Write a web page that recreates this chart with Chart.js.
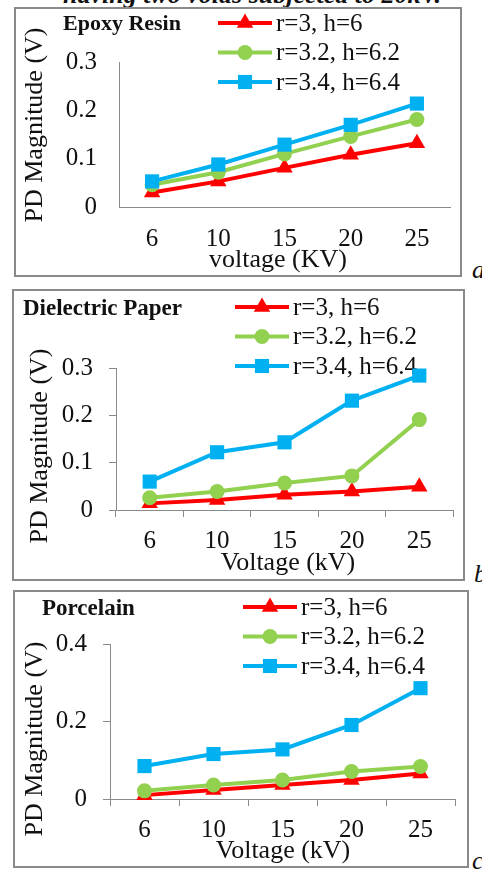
<!DOCTYPE html>
<html>
<head>
<meta charset="utf-8">
<script src="https://cdn.jsdelivr.net/npm/chart.js@4.4.1/dist/chart.umd.min.js"></script>
<style>
  html, body { margin: 0; padding: 0; background: #fff; }
  body { width: 482px; height: 869px; overflow: hidden; position: relative; font-family: "Liberation Serif", serif; }
  .panel { position: absolute; box-sizing: border-box; border: 2px solid #8a8a8a; background: #fff; }
  .panel canvas { display: block; }
  .caption { position: absolute; left: 0; width: 504px; top: -18px; text-align: center; font: italic bold 26px/26px "Liberation Serif", serif; color: #111; white-space: nowrap; }
  .tag { position: absolute; font: italic 26px/26px "Liberation Serif", serif; color: #111; }
</style>
</head>
<body>
<div class="caption">having two voids subjected to 20kV.</div>

<div class="panel" style="left:14px;top:7px;width:448px;height:270px"><canvas id="epoxy" width="444" height="266"></canvas></div>
<div class="tag" style="left:472px;top:257px">a</div>

<div class="panel" style="left:12px;top:289px;width:453px;height:292px"><canvas id="paper" width="449" height="288"></canvas></div>
<div class="tag" style="left:474px;top:561px">b</div>

<div class="panel" style="left:13px;top:590px;width:456px;height:278px"><canvas id="porcelain" width="452" height="274"></canvas></div>
<div class="tag" style="left:472px;top:848px">c</div>

<script>
// voltage steps (kV) on the x axis
const voltage = ['6', '10', '15', '20', '25'];
const seriesNames = ['r=3, h=6', 'r=3.2, h=6.2', 'r=3.4, h=6.4'];

// PD magnitude (V)
const epoxyR3  = [0.030, 0.053, 0.081, 0.108, 0.132];
const epoxyR32 = [0.046, 0.072, 0.110, 0.146, 0.181];
const epoxyR34 = [0.053, 0.088, 0.129, 0.170, 0.214];

const paperR3  = [0.014, 0.021, 0.032, 0.039, 0.049];
const paperR32 = [0.026, 0.039, 0.057, 0.072, 0.191];
const paperR34 = [0.060, 0.122, 0.143, 0.231, 0.284];

const porcR3  = [0.010, 0.023, 0.036, 0.049, 0.066];
const porcR32 = [0.021, 0.036, 0.049, 0.071, 0.084];
const porcR34 = [0.085, 0.116, 0.128, 0.191, 0.286];

const COLORS = ['#ff0000', '#92d050', '#00b0f0'];
const MARKERS = [
  { style: 'triangle', r: 9.5 },
  { style: 'circle', r: 7.5 },
  { style: 'rect', r: 10 }
];
const FONT = '"Liberation Serif", serif';
const AXIS_GREY = '#8a8a8a';

function drawMarker(ctx, style, r, x, y) {
  ctx.beginPath();
  if (style === 'triangle') {
    ctx.moveTo(x, y - r);
    ctx.lineTo(x + r * 0.866, y + r / 2);
    ctx.lineTo(x - r * 0.866, y + r / 2);
    ctx.closePath();
  } else if (style === 'circle') {
    ctx.arc(x, y, r, 0, Math.PI * 2);
  } else {
    const s = r * Math.SQRT1_2;
    ctx.rect(x - s, y - s, 2 * s, 2 * s);
  }
  ctx.fill();
}

// panel title, axis titles and the inset legend
const panelText = {
  id: 'panelText',
  beforeDatasetsDraw(chart, args, o) {
    const ctx = chart.ctx;
    ctx.save();
    ctx.fillStyle = '#111';
    ctx.textBaseline = 'middle';

    ctx.font = `bold ${o.titleSize}px ${FONT}`;
    ctx.textAlign = 'left';
    ctx.fillText(o.title, o.titleX, o.titleY);

    ctx.font = `26px ${FONT}`;
    ctx.textAlign = 'center';
    ctx.fillText(o.xTitle, o.xTitleX, o.xTitleY);
    ctx.save();
    ctx.translate(o.yTitleX, o.yTitleY);
    ctx.rotate(-Math.PI / 2);
    ctx.fillText('PD Magnitude (V)', 0, 0);
    ctx.restore();

    ctx.font = `25px ${FONT}`;
    ctx.textAlign = 'left';
    seriesNames.forEach((name, i) => {
      const y = o.legendY + i * 29.5;
      ctx.strokeStyle = COLORS[i];
      ctx.fillStyle = COLORS[i];
      ctx.lineWidth = 4;
      ctx.beginPath();
      ctx.moveTo(o.legendX, y);
      ctx.lineTo(o.legendX + 54, y);
      ctx.stroke();
      drawMarker(ctx, MARKERS[i].style, MARKERS[i].r, o.legendX + 27, y);
      ctx.fillStyle = '#111';
      ctx.fillText(name, o.legendX + 58, y + 1);
    });
    ctx.restore();
  }
};

function makeChart(id, series, p) {
  const ticked = p.ticked;
  new Chart(document.getElementById(id), {
    type: 'line',
    data: {
      labels: voltage,
      datasets: series.map((vals, i) => ({
        label: seriesNames[i],
        data: vals,
        borderColor: COLORS[i],
        backgroundColor: COLORS[i],
        borderWidth: 4,
        pointStyle: MARKERS[i].style,
        pointRadius: MARKERS[i].r,
        pointHoverRadius: MARKERS[i].r,
        pointBorderWidth: 0,
        pointBackgroundColor: COLORS[i],
        tension: 0,
        clip: false,
        order: 2 - i
      }))
    },
    options: {
      responsive: false,
      animation: false,
      devicePixelRatio: 1,
      layout: { padding: { left: 0, top: p.top, right: p.right, bottom: 0 } },
      plugins: {
        legend: { display: false },
        tooltip: { enabled: false },
        panelText: p.text
      },
      scales: {
        x: {
          offset: true,
          grid: {
            display: ticked, offset: true, drawOnChartArea: false,
            drawTicks: ticked, tickLength: ticked ? 7 : 0, color: AXIS_GREY
          },
          border: { display: true, color: AXIS_GREY, width: 1 },
          ticks: { color: '#111', font: { family: FONT, size: 25 }, padding: p.xPad, maxRotation: 0 },
          afterFit: s => { s.height = p.xHeight; }
        },
        y: {
          min: 0,
          max: p.yMax,
          ticks: { stepSize: p.yStep, color: '#111', font: { family: FONT, size: 25 }, padding: p.yPad },
          grid: {
            display: ticked, drawOnChartArea: false,
            drawTicks: ticked, tickLength: ticked ? 7 : 0, color: AXIS_GREY
          },
          border: { display: true, color: AXIS_GREY, width: 1 },
          afterFit: s => { s.width = p.yWidth; }
        }
      }
    },
    plugins: [panelText]
  });
}

makeChart('epoxy', [epoxyR3, epoxyR32, epoxyR34], {
  ticked: false, top: 53, right: 0, xHeight: 68, yWidth: 103,
  xPad: 17, yPad: 22, yMax: 0.3, yStep: 0.1,
  text: {
    title: 'Epoxy Resin', titleSize: 22, titleX: 47, titleY: 15,
    xTitle: 'voltage (KV)', xTitleX: 262, xTitleY: 251,
    yTitleX: 19, yTitleY: 116,
    legendX: 202, legendY: 14
  }
});

makeChart('paper', [paperR3, paperR32, paperR34], {
  ticked: true, top: 77, right: 4, xHeight: 69, yWidth: 102,
  xPad: 9, yPad: 16, yMax: 0.3, yStep: 0.1,
  text: {
    title: 'Dielectric Paper', titleSize: 23, titleX: 9, titleY: 18,
    xTitle: 'Voltage (kV)', xTitleX: 274, xTitleY: 272,
    yTitleX: 26, yTitleY: 155,
    legendX: 221, legendY: 16
  }
});

makeChart('porcelain', [porcR3, porcR32, porcR34], {
  ticked: true, top: 52, right: 12, xHeight: 67, yWidth: 95,
  xPad: 9, yPad: 16, yMax: 0.4, yStep: 0.2,
  text: {
    title: 'Porcelain', titleSize: 23, titleX: 27, titleY: 17,
    xTitle: 'Voltage (kV)', xTitleX: 268, xTitleY: 259,
    yTitleX: 20, yTitleY: 147,
    legendX: 228, legendY: 15
  }
});
</script>
</body>
</html>
